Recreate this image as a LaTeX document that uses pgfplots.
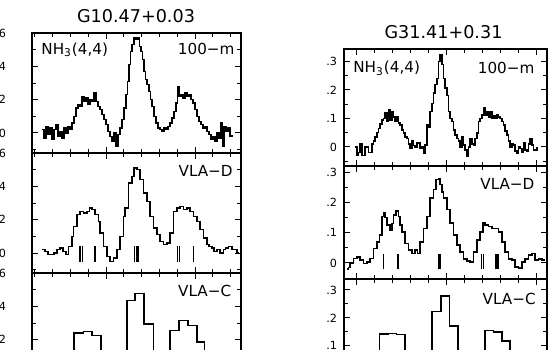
\documentclass[border=0pt]{standalone}
\usepackage{fontspec}
\setmainfont{DejaVu Sans}
\usepackage{pgfplots}
\pgfplotsset{compat=1.18}
\tikzset{
  lbl/.style={font=\fontsize{7.6}{9}\selectfont, inner sep=0pt},
  hf/.style={black, line width=0.55pt}
}
\pgfplotsset{
  panel/.style={scale only axis, axis line style={line width=0.55pt},
    every tick/.style={black, line width=0.5pt},
    major tick length=3.2pt, minor tick length=2pt,
    xticklabels={}, tick align=inside,
    /pgf/number format/assume math mode=true,
    yticklabel style={font=\fontsize{5.6}{6.5}\selectfont},
    every axis plot/.append style={black, line width=0.8pt}},
  leftcol/.style={panel, width=104.5pt, height=60pt, xmin=0, xmax=209,
    xtick={74,163}, minor xtick={2.8,20.6,38.4,56.2,91.8,109.6,127.4,145.2,180.8,198.6},
    ymin=-1.2, ymax=6, ytick={0,2,4,6}, yticklabels={0,2,4,6}, minor ytick={-1,1,3,5},
    yticklabel style={xshift=-9.5pt}},
  rightcol/.style={panel, width=101.5pt, xmin=0, xmax=203,
    xtick={12,102,192}, minor xtick={30,48,66,84,120,138,156,174},
    ytick={0,0.1,0.2,0.3}, yticklabels={0,.1,.2,.3}, minor ytick={-0.05,0.05,0.15,0.25}}
}
\begin{document}
\begin{tikzpicture}
\useasboundingbox (0,0) rectangle (274.5pt,174.5pt);
\clip (0,0) rectangle (274.5pt,174.5pt);

\node[font=\fontsize{8.8}{10}\selectfont] at (68pt,166.5pt) {G10.47+0.03};
\node[font=\fontsize{8.8}{10}\selectfont] at (221.75pt,158.5pt) {G31.41+0.31};

% ---------- left column, panel 1 (100-m)
\begin{axis}[leftcol, at={(16pt,158pt)}, anchor=north west]
\addplot[const plot] coordinates {
(10,0.2)(12,-0.3)(14,0.4)(16,-0.1)(18,0.3)(20,-0.4)(22,0.2)(24,0.5)(26,-0.2)(28,0.1)
(30,-0.3)(32,0.3)(34,0.0)(36,0.4)(38,0.2)(40,0.6)(42,1.0)(44,1.5)(46,1.7)(48,1.6)
(50,2.2)(52,1.9)(54,2.1)(56,1.7)(58,2.0)(60,1.9)(62,2.4)(64,1.9)(66,1.6)(68,1.4)
(70,1.1)(72,0.8)(74,0.5)(76,0.1)(78,-0.2)(80,-0.5)(82,0.0)(84,-0.8)(86,-0.1)(88,0.3)
(90,0.8)(92,1.5)(94,2.3)(95.5,3.1)(97,4.1)(98.5,4.9)(100,5.3)(102,5.7)(104,5.6)(106,5.7)
(107.5,5.2)(109,4.9)(110.5,4.4)(112,3.7)(113.5,3.2)(115,2.9)(117,2.5)(118.5,2.0)(120,1.6)(122,1.0)
(124,0.6)(126,0.3)(128,0.2)(130,0.1)(132,0.3)(134,0.2)(136,0.4)(138,0.6)(140,0.9)(142,1.3)
(144,1.8)(145.5,2.8)(147,2.2)(149,2.3)(151,2.1)(153,2.4)(155,2.2)(157,2.3)(159,2.0)(161,1.8)
(163,1.4)(165,1.0)(167,0.7)(169,0.5)(171,0.3)(173,0.4)(175,0.1)(177,-0.1)(179,-0.4)(181,-0.2)
(183,-0.5)(185,0.0)(187,-0.3)(189,0.6)(190.5,-0.8)(192,0.4)(194,0.1)(196,0.3)(198,-0.2)(200,-0.1)
};
\node[lbl, anchor=north west] at (rel axis cs:0.043,0.92) {NH\textsubscript{3}(4,4)};
\node[lbl, anchor=north east] at (rel axis cs:0.971,0.92) {100−m};
\end{axis}

% ---------- left column, panel 2 (VLA-D)
\begin{axis}[leftcol, at={(16pt,98pt)}, anchor=north west]
\addplot[const plot] coordinates {
(9.7,0.2)(13,0.1)(16,-0.1)(19,-0.1)(22,0.0)(25,0.2)(28,0.3)(31,0.1)(34,-0.1)(36.3,0.4)
(39.7,1.0)(41.3,1.6)(44.7,2.3)(48,2.5)(51.3,2.4)(54.7,2.5)(57.3,2.7)(59.7,2.6)(63,2.3)(66.3,1.9)
(68,1.2)(71.3,0.4)(74.7,-0.2)(78,-0.5)(81.3,-0.3)(84.7,0.2)(88,1.0)(91.3,2.2)(93,2.7)(96.3,4.2)
(99.7,4.6)(102,5.1)(104.7,5.0)(108,4.4)(111.3,3.6)(114.7,3.1)(118,2.2)(121.3,1.5)(124.7,1.1)(128,0.7)
(131.3,0.5)(134.7,0.6)(138,1.2)(141.3,2.5)(144.7,2.7)(148,2.8)(151.3,2.6)(154.7,2.7)(158,2.5)(161.3,2.2)
(164.7,1.9)(168,1.4)(171.3,0.9)(174.7,0.5)(177,0.4)(179.7,0.3)(182,0.1)(184.7,0.2)(188,0.0)(191.3,0.2)
(193.5,0.3)(196.3,0.4)(199.7,0.2)(204.7,0.0)(207,0.0)
};
\addplot[hf] coordinates {(48,-0.55)(48,0.42)};
\addplot[hf] coordinates {(50.3,-0.55)(50.3,0.42)};
\addplot[hf, line width=0.8pt] coordinates {(63,-0.55)(63,0.42)};
\addplot[hf] coordinates {(102.5,-0.55)(102.5,0.42)};
\addplot[hf] coordinates {(104.3,-0.55)(104.3,0.42)};
\addplot[hf] coordinates {(106,-0.55)(106,0.42)};
\addplot[hf] coordinates {(145.7,-0.55)(145.7,0.42)};
\addplot[hf] coordinates {(147.7,-0.55)(147.7,0.42)};
\addplot[hf, line width=0.8pt] coordinates {(161.3,-0.55)(161.3,0.42)};
\node[lbl, anchor=north east] at (rel axis cs:0.962,0.9) {VLA−D};
\end{axis}

% ---------- left column, panel 3 (VLA-C)
\begin{axis}[leftcol, at={(16pt,38pt)}, anchor=north west, ytick={2,4,6}, yticklabels={2,4,6}]
\addplot[const plot] coordinates {
(0,0.3)(42,2.4)(51.3,2.5)(59.7,2.24)(68.7,0.7)(77.3,0.3)(86,0.8)(94.7,4.36)(103,4.76)(112,2.94)
(121.3,0.9)(129.5,0.4)(138,2.56)(147,3.14)(156,2.84)(164.7,1.86)(172.3,0.6)(181,0.2)(209,0.2)
};
\node[lbl, anchor=north east] at (rel axis cs:0.955,0.9) {VLA−C};
\end{axis}

% ---------- right column, panel 1 (100-m)
\begin{axis}[rightcol, at={(172pt,150pt)}, anchor=north west, height=58.5pt, ymin=-0.067, ymax=0.344]
\addplot[const plot] coordinates {
(11,0.00)(12.7,-0.03)(14.3,-0.02)(16,0.01)(17.7,-0.03)(19.3,-0.03)(21,0.00)(22.7,0.00)(24.3,-0.02)(26,-0.02)
(27.7,0.01)(29.3,0.02)(31,0.035)(32.7,0.05)(34.3,0.065)(36,0.08)(37.7,0.095)(39.3,0.1)(41,0.12)(42.7,0.09)
(44.3,0.13)(46,0.095)(47.7,0.125)(49.3,0.105)(51,0.09)(52.7,0.105)(54.3,0.085)(56,0.077)(57.7,0.06)(59.3,0.048)
(61,0.035)(62.7,0.03)(64.3,0.01)(66,-0.005)(67.7,0.02)(69.3,0.005)(71,0.0)(72.7,0.015)(74.3,0.013)(76,-0.005)
(77.7,0.0)(79.3,-0.022)(81,0.007)(82.7,0.077)(84.3,0.07)(86,0.124)(87.7,0.153)(89.3,0.19)(91,0.22)(92.7,0.24)
(94.3,0.30)(96,0.325)(97.7,0.29)(99.3,0.24)(101,0.206)(102.7,0.18)(104.3,0.124)(106,0.10)(107.7,0.09)(109.3,0.06)
(111,0.042)(112.7,0.03)(114.3,0.02)(116,0.0)(117.7,0.035)(119.3,0.007)(121,-0.01)(122.7,-0.034)(124.3,0.0)(126,0.03)
(127.7,0.01)(129.3,0.007)(131,0.03)(132.7,0.048)(134.3,0.09)(136,0.1)(137.7,0.112)(139.3,0.136)(141,0.11)(142.7,0.125)
(144.3,0.105)(146,0.124)(147.7,0.1)(149.3,0.11)(151,0.1)(152.7,0.112)(154.3,0.105)(156,0.1)(157.7,0.09)(159.3,0.077)
(161,0.055)(162.7,0.042)(164.3,0.02)(166,0.0)(167.7,0.01)(169.3,0.007)(171,-0.015)(172.7,-0.022)(174.3,0.0)(176,-0.005)
(177.7,-0.02)(179.3,0.013)(181,-0.01)(182.7,-0.016)(184.3,0.01)(186,0.03)(187.7,0.007)(189.3,-0.01)(191,-0.01)(192.7,0.0)
};
\node[lbl, anchor=north west] at (rel axis cs:0.044,0.9) {NH\textsubscript{3}(4,4)};
\node[lbl, anchor=north east] at (rel axis cs:0.94,0.89) {100−m};
\end{axis}

% ---------- right column, panel 2 (VLA-D)
\begin{axis}[rightcol, at={(172pt,91.5pt)}, anchor=north west, height=56.5pt, ymin=-0.053, ymax=0.32]
\addplot[const plot] coordinates {
(2.7,-0.02)(4.3,-0.015)(6,0.0)(9.3,0.015)(12.7,0.02)(16,0.01)(19.3,-0.002)(22.7,0.003)(26,0.015)(29.3,0.048)
(32.7,0.07)(35.3,0.092)(37.7,0.153)(39.3,0.164)(41,0.15)(42.7,0.126)(46,0.109)(47.7,0.13)(49.3,0.159)(52,0.172)
(54.3,0.153)(56,0.125)(57.7,0.103)(61,0.064)(64.3,0.042)(67.7,0.031)(71,0.042)(73.3,0.031)(76,0.07)(79.3,0.114)
(82.7,0.153)(86,0.214)(89.3,0.242)(92,0.276)(94.3,0.279)(96,0.259)(97.7,0.235)(99.3,0.214)(102.7,0.176)(106,0.131)
(109.3,0.092)(112.7,0.059)(116,0.037)(119.3,0.014)(122.7,0.006)(126,0.003)(129.3,0.037)(132.7,0.076)(136,0.103)(138.7,0.131)
(141,0.125)(144.3,0.12)(147.7,0.114)(151,0.114)(154.3,0.103)(157.7,0.07)(161,0.037)(164.3,0.014)(167.7,0.009)(171,-0.013)
(174.3,-0.017)(177.7,0.003)(181,0.014)(184.3,0.026)(187.7,0.031)(191,0.009)(194.3,0.014)(197.7,0.009)(201,0.009)
};
\addplot[hf, line width=0.8pt] coordinates {(39.3,-0.021)(39.3,0.029)};
\addplot[hf, line width=0.8pt] coordinates {(53.7,-0.021)(53.7,0.029)};
\addplot[hf] coordinates {(94.7,-0.021)(94.7,0.029)};
\addplot[hf] coordinates {(95.7,-0.021)(95.7,0.029)};
\addplot[hf] coordinates {(96.7,-0.021)(96.7,0.029)};
\addplot[hf] coordinates {(137.3,-0.021)(137.3,0.029)};
\addplot[hf] coordinates {(139.3,-0.021)(139.3,0.029)};
\addplot[hf] coordinates {(152,-0.021)(152,0.029)};
\addplot[hf] coordinates {(154,-0.021)(154,0.029)};
\node[lbl, anchor=north east] at (rel axis cs:0.94,0.894) {VLA−D};
\end{axis}

% ---------- right column, panel 3 (VLA-C)
\begin{axis}[rightcol, at={(172pt,35pt)}, anchor=north west, height=58.5pt, ymin=-0.079, ymax=0.339]
\addplot[const plot] coordinates {
(0,0.0)(35.3,0.143)(43.9,0.144)(52.5,0.141)(61,0.04)(69.6,0.0)(78.2,0.05)(87.7,0.223)(96.7,0.279)(105.3,0.172)
(113.7,0.05)(122.5,0.0)(132,0.04)(141,0.155)(149.3,0.149)(157.7,0.118)(166,0.05)(175,0.0)(203,0.0)
};
\node[lbl, anchor=north east] at (rel axis cs:0.946,0.88) {VLA−C};
\end{axis}
\end{tikzpicture}
\end{document}
